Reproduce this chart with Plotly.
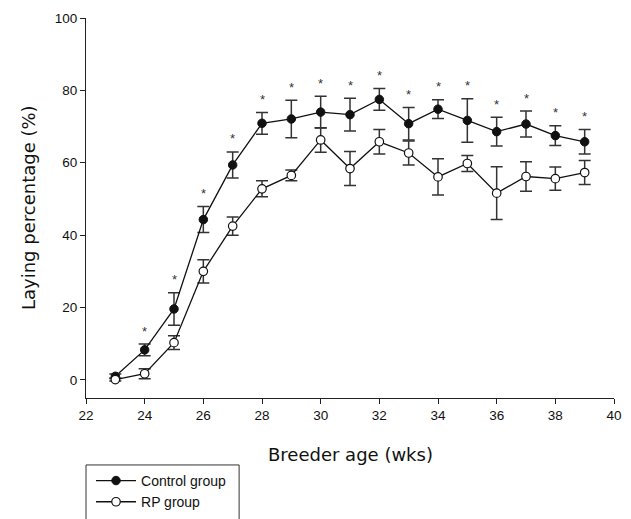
import plotly.graph_objects as go

weeks = [23, 24, 25, 26, 27, 28, 29, 30, 31, 32, 33, 34, 35, 36, 37, 38, 39]
control = [1.0, 8.3, 19.6, 44.3, 59.4, 70.9, 72.1, 74.0, 73.3, 77.5, 70.8, 74.8, 71.7, 68.6, 70.7, 67.5, 65.8]
control_err = [0.6, 1.6, 4.5, 3.6, 3.6, 3.0, 5.2, 4.4, 4.5, 3.0, 4.5, 2.6, 6.0, 4.0, 3.6, 2.7, 3.4]
rp = [0.1, 1.7, 10.3, 30.0, 42.5, 52.8, 56.5, 66.3, 58.4, 65.8, 62.7, 56.1, 59.8, 51.6, 56.2, 55.6, 57.3]
rp_err = [0.4, 1.4, 1.9, 3.2, 2.5, 2.2, 1.5, 3.4, 4.7, 3.4, 3.3, 5.0, 2.2, 7.3, 4.1, 3.2, 3.3]
signif_weeks = [24, 25, 26, 27, 28, 29, 30, 31, 32, 33, 34, 35, 36, 37, 38, 39]

x_ticks = [22, 24, 26, 28, 30, 32, 34, 36, 38, 40]
y_ticks = [0, 20, 40, 60, 80, 100]

fig = go.Figure()
fig.add_trace(go.Scatter(
    x=weeks, y=control, name="Control group", mode="lines+markers",
    line=dict(color="#111111", width=1.3),
    marker=dict(size=8.5, color="#111111", line=dict(color="#111111", width=1)),
    error_y=dict(type="data", array=control_err, visible=True,
                 color="#333333", thickness=1.5, width=6),
))
fig.add_trace(go.Scatter(
    x=weeks, y=rp, name="RP group", mode="lines+markers",
    line=dict(color="#111111", width=1.3),
    marker=dict(size=8.5, color="white", line=dict(color="#111111", width=1.2)),
    error_y=dict(type="data", array=rp_err, visible=True,
                 color="#333333", thickness=1.5, width=6),
))

annotations = []
for w in signif_weeks:
    i = weeks.index(w)
    annotations.append(dict(
        x=w, y=control[i] + control_err[i], xref="x", yref="y",
        text="*", showarrow=False, yanchor="bottom", yshift=3.5,
        font=dict(family="Liberation Sans, Arial", size=13, color="#333333"),
    ))

annotations.append(dict(
    x=0.5, y=-0.150, xref="paper", yref="paper", text="Breeder age (wks)",
    showarrow=False, xanchor="center", yanchor="middle",
    font=dict(family="DejaVu Sans, Verdana", size=18, color="#111111"),
))
annotations.append(dict(
    x=-0.1098, y=0.5, xref="paper", yref="paper", text="Laying percentage (%)",
    showarrow=False, xanchor="center", yanchor="middle", textangle=-90,
    font=dict(family="DejaVu Sans, Verdana", size=18, color="#111111"),
))

fig.update_layout(
    width=623, height=511,
    margin=dict(l=78, r=17, t=9.7, b=121, autoexpand=False),
    paper_bgcolor="white", plot_bgcolor="white",
    font=dict(family="Liberation Sans, Arial", size=13.5, color="#111111"),
    xaxis=dict(range=[22, 40], tickvals=x_ticks, ticks="outside", ticklen=5,
               tickcolor="#222222", showline=True, linecolor="#222222", linewidth=1,
               showgrid=False, zeroline=False, tickfont=dict(size=13.5)),
    yaxis=dict(range=[-5, 100], tickvals=y_ticks, ticks="outside", ticklen=5,
               tickcolor="#222222", showline=True, linecolor="#222222", linewidth=1,
               showgrid=False, zeroline=False, tickfont=dict(size=13.5)),
    showlegend=True,
    legend=dict(x=0.0095, y=-0.1762, xanchor="left", yanchor="top",
                bgcolor="rgba(0,0,0,0)", borderwidth=0, itemwidth=40,
                font=dict(family="Liberation Sans, Arial", size=14, color="#111111")),
    annotations=annotations,
    shapes=[dict(type="rect", xref="paper", yref="paper", x0=0.0, x1=0.29,
                 y0=-0.1762, y1=-0.6, line=dict(color="#333333", width=1))],
)

fig.write_html("out.html")
